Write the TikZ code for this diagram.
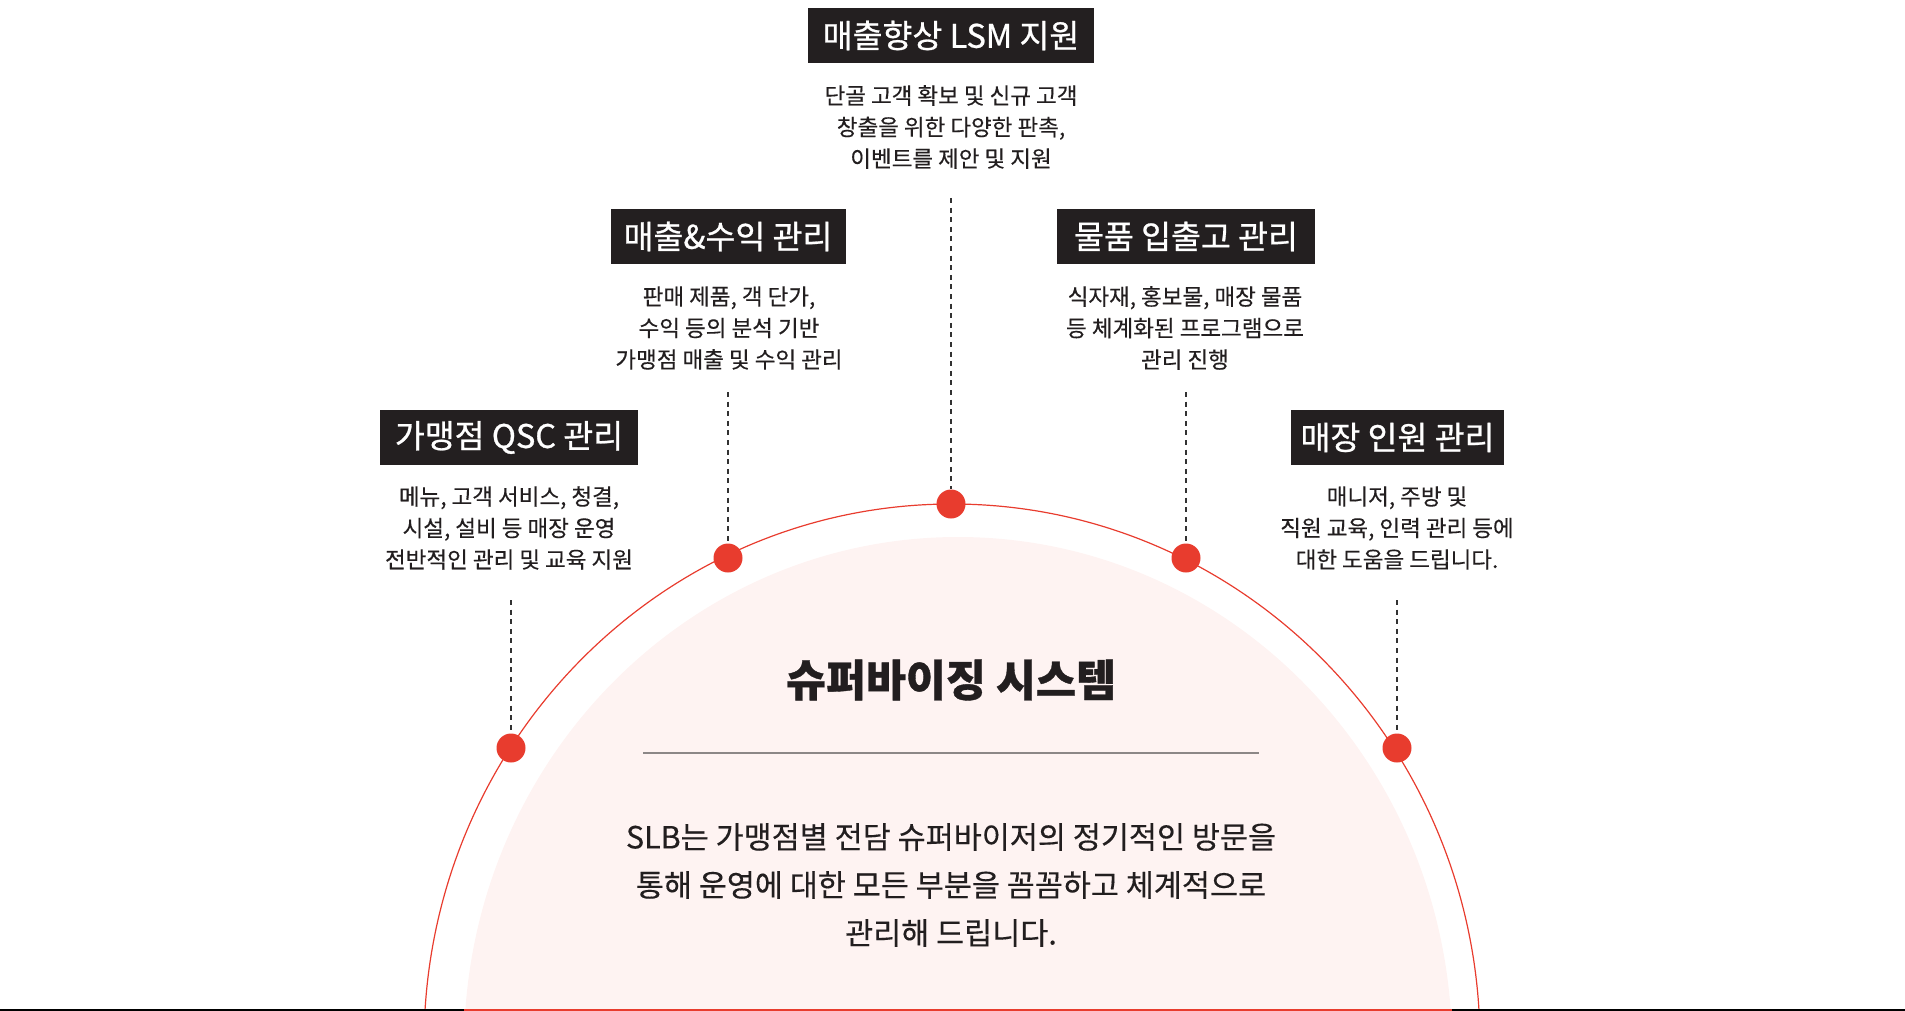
\documentclass[tikz,border=0pt]{standalone}
\usepackage{fontspec}
\setmainfont{Noto Sans CJK KR}
\definecolor{redc}{RGB}{232,60,46}
\definecolor{pinkc}{RGB}{254,243,242}
\definecolor{boxc}{RGB}{35,31,32}
\definecolor{txt}{RGB}{34,30,31}
\definecolor{dashc}{RGB}{50,50,50}
\definecolor{sepc}{RGB}{140,135,135}
\begin{document}
\begin{tikzpicture}[x=1pt,y=-1pt,
  lab/.style={fill=boxc, text=white, font=\fontsize{32.5}{32.5}\selectfont\addfontfeature{FakeBold=0.8}, minimum height=55pt, inner sep=0pt},
  desc/.style={text=txt, font=\fontsize{22.5}{31.5}\selectfont\addfontfeature{FakeBold=0.3}, align=center},
  dot/.style={circle, fill=redc, minimum size=29pt, inner sep=0pt},
  dline/.style={draw=dashc, line width=1.3pt, dash pattern=on 5pt off 4.6pt}]
\useasboundingbox (0,0) rectangle (1905,1011);
\begin{scope}
\clip (0,0) rectangle (1905,1011);
\fill[pinkc] (958,1048) ellipse [x radius=494pt, y radius=511pt];
\draw[redc, line width=1.2pt] (952,1044) ellipse [x radius=528pt, y radius=540pt];
\end{scope}
\draw[black, line width=1.5pt] (0,1010) -- (1905,1010);
\draw[redc, line width=1.5pt] (464,1010) -- (1452,1010);
% dots on the arc with dashed leaders
\foreach \n/\xx/\yy/\ty in {a/511/748/600, b/728/558/392, c/951/504/198, d/1186/558/392, e/1397/748/600} {
  \coordinate (top\n) at (\xx,\ty);
  \node[dot] (dot\n) at (\xx,\yy) {};
  \draw[dline] (top\n) -- (dot\n);
}
% labels
\node[lab, minimum width=286pt] (t1) at (951,35.5) {매출향상 LSM 지원};
\node[desc] (d1) at (951,127) {단골 고객 확보 및 신규 고객\\창출을 위한 다양한 판촉,\\이벤트를 제안 및 지원};
\node[lab, minimum width=235pt] (t2) at (728,236.5) {매출\&수익 관리};
\node[desc] (d2) at (729,328) {판매 제품, 객 단가,\\수익 등의 분석 기반\\가맹점 매출 및 수익 관리};
\node[lab, minimum width=258pt] (t3) at (1186,236.5) {물품 입출고 관리};
\node[desc] (d3) at (1185,328) {식자재, 홍보물, 매장 물품\\등 체계화된 프로그램으로\\관리 진행};
\node[lab, minimum width=258pt] (t4) at (509,437.5) {가맹점 QSC 관리};
\node[desc] (d4) at (509,528) {메뉴, 고객 서비스, 청결,\\시설, 설비 등 매장 운영\\전반적인 관리 및 교육 지원};
\node[lab, minimum width=213pt] (t5) at (1397.5,437.5) {매장 인원 관리};
\node[desc] (d5) at (1397,528) {매니저, 주방 및\\직원 교육, 인력 관리 등에\\대한 도움을 드립니다.};
% center
\node[text=txt, font=\bfseries\fontsize{43.5}{43.5}\selectfont\addfontfeature{FakeBold=0.8}] (title) at (951,680) {슈퍼바이징 시스템};
\coordinate (s1) at (643,753);
\coordinate (s2) at (1259,753);
\draw[sepc, line width=1.3pt] (s1) -- (s2);
\node[text=txt, font=\fontsize{30.5}{48}\selectfont\addfontfeature{FakeBold=0.3}, align=center] (body) at (951,885) {SLB는 가맹점별 전담 슈퍼바이저의 정기적인 방문을\\통해 운영에 대한 모든 부분을 꼼꼼하고 체계적으로\\관리해 드립니다.};
\end{tikzpicture}
\end{document}
